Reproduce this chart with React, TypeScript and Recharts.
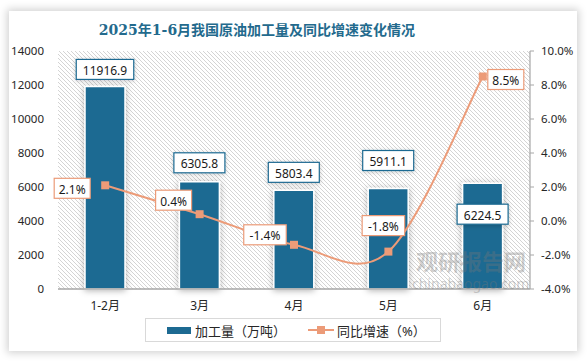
import {
  ComposedChart,
  Bar,
  Line,
  XAxis,
  YAxis,
  CartesianGrid,
  LabelList,
} from "recharts";

const categories = ["1-2月", "3月", "4月", "5月", "6月"];
const output = [11916.9, 6305.8, 5803.4, 5911.1, 6224.5];
const growth = [2.1, 0.4, -1.4, -1.8, 8.5];
const leftTicks = [0, 2000, 4000, 6000, 8000, 10000, 12000, 14000];
const rightTicks = [-4, -2, 0, 2, 4, 6, 8, 10];

const data = categories.map((month, i) => ({
  month,
  output: output[i],
  growth: growth[i],
}));

const BLUE = "#1d6a92";
const ORANGE = "#ec9b78";
const FONT = '"Noto Sans", "Noto Sans CJK SC", sans-serif';

// label box offsets relative to bar top / line point
const barLabelDy = [-17, -19, -18, -28, 31];
const lineLabelOffset = [
  [-33, 3],
  [-26, -14],
  [-29, -10],
  [-5, -26],
  [23, 3],
];

// excel-like smoothing (catmull-rom through the points)
const smoothCurve = (context: any) => {
  let pts: number[][] = [];
  return {
    areaStart() {},
    areaEnd() {},
    lineStart() {
      pts = [];
    },
    point(x: number, y: number) {
      pts.push([+x, +y]);
    },
    lineEnd() {
      if (!pts.length) return;
      context.moveTo(pts[0][0], pts[0][1]);
      for (let i = 0; i < pts.length - 1; i++) {
        const p0 = pts[i - 1] || pts[i];
        const p1 = pts[i];
        const p2 = pts[i + 1];
        const p3 = pts[i + 2] || p2;
        context.bezierCurveTo(
          p1[0] + (p2[0] - p0[0]) / 6,
          p1[1] + (p2[1] - p0[1]) / 6,
          p2[0] - (p3[0] - p1[0]) / 6,
          p2[1] - (p3[1] - p1[1]) / 6,
          p2[0],
          p2[1]
        );
      }
    },
  };
};

const BarLabel = (props: any) => {
  const { x, y, width, value, index } = props;
  const text = Number(value).toFixed(1);
  const w = text.length * 6.5 + 12;
  const cx = Number(x) + Number(width) / 2;
  const cy = Number(y) + barLabelDy[index];
  return (
    <g>
      <rect
        x={cx - w / 2}
        y={cy - 10}
        width={w}
        height={20}
        fill="#fff"
        stroke={BLUE}
        strokeWidth={1.2}
        filter="url(#softShadow)"
      />
      <text
        x={cx}
        y={cy + 1}
        textAnchor="middle"
        dominantBaseline="central"
        fontSize={12}
        fill="#1a1a1a"
      >
        {text}
      </text>
    </g>
  );
};

const LineLabel = (props: any) => {
  const { x, y, value, index } = props;
  const text = Number(value).toFixed(1) + "%";
  const w = text.length * 6.5 + 10;
  const cx = Number(x) + lineLabelOffset[index][0];
  const cy = Number(y) + lineLabelOffset[index][1];
  return (
    <g>
      <rect
        x={cx - w / 2}
        y={cy - 10}
        width={w}
        height={20}
        fill="#fff"
        stroke={ORANGE}
        strokeWidth={1.2}
      />
      <text
        x={cx}
        y={cy + 1}
        textAnchor="middle"
        dominantBaseline="central"
        fontSize={12}
        fill="#1a1a1a"
      >
        {text}
      </text>
    </g>
  );
};

const SquareDot = (props: any) => {
  const { cx, cy, index } = props;
  return (
    <rect
      key={"dot-" + index}
      x={cx - 4}
      y={cy - 4}
      width={8}
      height={8}
      fill={ORANGE}
    />
  );
};

export default function App() {
  return (
    <div
      style={{
        position: "absolute",
        left: 0,
        top: 0,
        width: 588,
        height: 362,
        background: "#fff",
        fontFamily: FONT,
        overflow: "hidden",
      }}
    >
      <div
        style={{
          position: "absolute",
          left: 9,
          top: 11,
          width: 568,
          height: 340,
          background: "#fff",
          boxShadow: "0 0 8px 2px rgba(0,0,0,0.18)",
        }}
      />
      <div
        style={{
          position: "absolute",
          left: 0,
          top: 21,
          width: 514,
          textAlign: "center",
          fontSize: 14,
          lineHeight: "18px",
          fontWeight: "bold",
          color: "#236a8d",
          fontFamily: '"DejaVu Serif", "Noto Sans CJK SC", serif',
        }}
      >
        2025年1-6月我国原油加工量及同比增速变化情况
      </div>
      <div style={{ position: "absolute", left: 0, top: 0 }}>
        <ComposedChart
          width={588}
          height={362}
          data={data}
          margin={{ top: 51, right: 8, bottom: 43, left: 8 }}
          style={{ fontFamily: FONT }}
        >
          <defs>
            <pattern
              id="hatch"
              width={4}
              height={4}
              patternUnits="userSpaceOnUse"
            >
              <path
                d="M0,0 L4,4 M-1,3 L1,5 M3,-1 L5,1"
                stroke="#d4d4d4"
                strokeWidth={1}
              />
            </pattern>
            <filter id="barShadow" x="-30%" y="-30%" width="160%" height="160%">
              <feDropShadow
                dx={0}
                dy={1}
                stdDeviation={3}
                floodColor="#000"
                floodOpacity={0.3}
              />
            </filter>
            <filter id="softShadow" x="-30%" y="-30%" width="160%" height="160%">
              <feDropShadow
                dx={0}
                dy={1}
                stdDeviation={2}
                floodColor="#000"
                floodOpacity={0.2}
              />
            </filter>
          </defs>
          <CartesianGrid
            yAxisId="left"
            horizontal={false}
            vertical={false}
            fill="url(#hatch)"
            fillOpacity={1}
          />
          <XAxis
            dataKey="month"
            axisLine={{ stroke: "#a6a6a6", strokeWidth: 1.5 }}
            tickLine={false}
            tickMargin={6}
            height={30}
            tick={{ fontSize: 12, fill: "#262626" }}
          />
          <YAxis
            yAxisId="left"
            domain={[0, 14000]}
            ticks={leftTicks}
            interval={0}
            axisLine={false}
            tickLine={false}
            tickMargin={8}
            width={50}
            tick={{ fontSize: 11.5, fill: "#262626" }}
          />
          <YAxis
            yAxisId="right"
            orientation="right"
            domain={[-4, 10]}
            ticks={rightTicks}
            interval={0}
            axisLine={{ stroke: "#a6a6a6", strokeWidth: 1.2 }}
            tickLine={{ stroke: "#a6a6a6" }}
            tickSize={4}
            tickMargin={7}
            width={50}
            tickFormatter={(v: number) => v.toFixed(1) + "%"}
            tick={{ fontSize: 11.5, fill: "#262626" }}
          />
          <Bar
            yAxisId="left"
            dataKey="output"
            name="加工量（万吨）"
            barSize={40}
            fill={BLUE}
            stroke="#fff"
            strokeWidth={1.5}
            filter="url(#barShadow)"
            isAnimationActive={false}
          >
            <LabelList dataKey="output" content={BarLabel} />
          </Bar>
          <Line
            yAxisId="right"
            dataKey="growth"
            name="同比增速（%）"
            type={smoothCurve as any}
            stroke={ORANGE}
            strokeWidth={2}
            dot={SquareDot}
            activeDot={false}
            isAnimationActive={false}
          >
            <LabelList dataKey="growth" content={LineLabel} />
          </Line>
        </ComposedChart>
      </div>
      {/* watermark */}
      <div
        style={{
          position: "absolute",
          left: 416,
          top: 249,
          fontSize: 22,
          lineHeight: "22px",
          fontWeight: "bold",
          color: "rgba(120,120,120,0.35)",
          fontFamily: '"Noto Sans CJK SC", sans-serif',
          pointerEvents: "none",
        }}
      >
        观研报告网
      </div>
      <div
        style={{
          position: "absolute",
          left: 412,
          top: 277,
          fontSize: 14,
          lineHeight: "14px",
          color: "rgba(120,120,120,0.35)",
          pointerEvents: "none",
        }}
      >
        chinabaogao.com
      </div>
      {/* legend */}
      <div
        style={{
          position: "absolute",
          left: 145,
          top: 318,
          width: 296,
          height: 24,
          border: "1px solid #d9d9d9",
          boxSizing: "border-box",
          display: "flex",
          alignItems: "center",
          fontSize: 13,
          color: "#262626",
          fontFamily: FONT,
        }}
      >
        <div
          style={{
            marginLeft: 21,
            width: 24,
            height: 7,
            background: BLUE,
          }}
        />
        <span style={{ marginLeft: 4 }}>加工量（万吨）</span>
        <svg width={26} height={10} style={{ marginLeft: 22 }}>
          <line x1={0} y1={5} x2={26} y2={5} stroke={ORANGE} strokeWidth={2} />
          <rect x={9} y={1} width={8} height={8} fill={ORANGE} />
        </svg>
        <span style={{ marginLeft: 3 }}>同比增速（%）</span>
      </div>
    </div>
  );
}
